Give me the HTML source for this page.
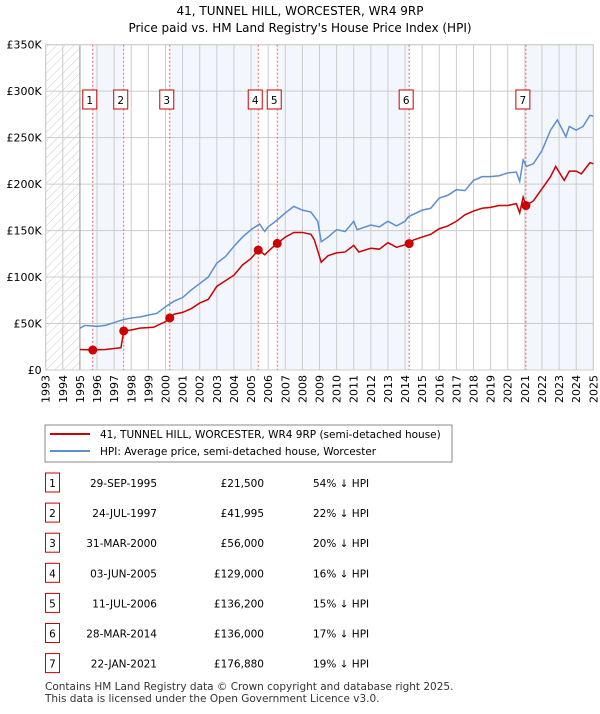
<!DOCTYPE html>
<html><head><meta charset="utf-8"><style>
body{margin:0;background:#fff;font-family:"DejaVu Sans","Liberation Sans",sans-serif;}
svg text{font-family:"DejaVu Sans","Liberation Sans",sans-serif;}
</style></head><body>
<svg id="c" width="600" height="710" viewBox="0 0 600 710" xmlns="http://www.w3.org/2000/svg">
<defs><pattern id="hatch" width="6" height="6" patternUnits="userSpaceOnUse" patternTransform="rotate(45)"><line x1="0" y1="0" x2="0" y2="6" stroke="#ccc" stroke-width="1"/></pattern></defs>
<text x="300" y="15" text-anchor="middle" font-size="12">41, TUNNEL HILL, WORCESTER, WR4 9RP</text>
<text x="300" y="32" text-anchor="middle" font-size="12">Price paid vs. HM Land Registry's House Price Index (HPI)</text>
<g id="plot"></g>
<rect x="45" y="425" width="407" height="37" fill="#fff" stroke="#888"/>
<line x1="50" y1="434" x2="90" y2="434" stroke="#cc0000" stroke-width="2"/>
<text x="100" y="438" font-size="10.5">41, TUNNEL HILL, WORCESTER, WR4 9RP (semi-detached house)</text>
<line x1="50" y1="451" x2="90" y2="451" stroke="#5b8fd0" stroke-width="2"/>
<text x="100" y="455" font-size="10.5">HPI: Average price, semi-detached house, Worcester</text>
<g id="table"></g>
<text x="45" y="690" font-size="10.5" fill="#333">Contains HM Land Registry data © Crown copyright and database right 2025.</text>
<text x="45" y="702" font-size="10.5" fill="#333">This data is licensed under the Open Government Licence v3.0.</text>
</svg>
<script>
const years=[1993,1994,1995,1996,1997,1998,1999,2000,2001,2002,2003,2004,2005,2006,2007,2008,2009,2010,2011,2012,2013,2014,2015,2016,2017,2018,2019,2020,2021,2022,2023,2024,2025];
const yTicks=[0,50000,100000,150000,200000,250000,300000,350000];
const yTickLabels=["£0","£50K","£100K","£150K","£200K","£250K","£300K","£350K"];
const hpiT=[1995,1995.3,1996,1996.5,1997,1997.5,1998,1998.5,1999,1999.5,2000,2000.5,2001,2001.5,2002,2002.5,2003,2003.5,2004,2004.5,2005,2005.5,2005.8,2006,2006.5,2007,2007.5,2008,2008.5,2008.9,2009.1,2009.5,2010,2010.5,2011,2011.2,2012,2012.5,2013,2013.5,2014,2014.2,2015,2015.5,2016,2016.5,2017,2017.5,2018,2018.5,2019,2019.5,2020,2020.5,2020.7,2020.9,2021.1,2021.5,2022,2022.5,2022.9,2023.4,2023.6,2024,2024.4,2024.8,2025];
const hpiV=[45,48,47,48,51,54,56,57,59,61,68,74,78,86,93,100,115,122,133,143,151,157,149,154,161,169,176,172,170,160,138,143,151,149,160,151,156,154,160,155,160,165,172,174,185,188,194,193,204,208,208,209,212,213,203,226,219,222,236,258,269,251,262,258,262,274,273];
const ppT=[1995,1995.75,1996.5,1997.4,1997.56,1998,1998.5,1999.3,2000,2000.25,2000.5,2001,2001.5,2002,2002.5,2003,2003.5,2004,2004.5,2005,2005.42,2005.8,2006.2,2006.53,2007,2007.5,2008,2008.5,2008.7,2009.1,2009.5,2010,2010.5,2011,2011.3,2012,2012.5,2013,2013.5,2014.24,2014.5,2015,2015.5,2016,2016.5,2017,2017.5,2018,2018.5,2019,2019.5,2020,2020.5,2020.7,2020.9,2021.06,2021.5,2022,2022.5,2022.8,2023.3,2023.6,2024,2024.3,2024.8,2025];
const ppV=[22,21.5,22,24,42,43,45,46,52,56,60,62,66,72,76,90,96,102,113,120,129,124,131,136,143,148,148,146,140,116,123,126,127,134,127,131,130,137,132,136,140,143,146,152,155,160,167,171,174,175,177,177,179,169,186,177,182,195,208,219,204,214,214,211,223,222];
const saleT=[1995.75,1997.56,2000.25,2005.42,2006.53,2014.24,2021.06];
const saleV=[21500,41995,56000,129000,136200,136000,176880];
const saleDates=["29-SEP-1995","24-JUL-1997","31-MAR-2000","03-JUN-2005","11-JUL-2006","28-MAR-2014","22-JAN-2021"];
const salePrices=["£21,500","£41,995","£56,000","£129,000","£136,200","£136,000","£176,880"];
const saleHpi=["54% ↓ HPI","22% ↓ HPI","20% ↓ HPI","16% ↓ HPI","15% ↓ HPI","17% ↓ HPI","19% ↓ HPI"];

const X0=45.7,X1=593.3,Y0=370,Y1=44.7;
const xs=t=>X0+(t-1993)/(2025-1993)*(X1-X0);
const ys=v=>Y0-v/350000*(Y0-Y1);
const NS="http://www.w3.org/2000/svg";
const plot=document.getElementById('plot');
function mk(tag,at,parent){const e=document.createElementNS(NS,tag);for(const k in at)e.setAttribute(k,at[k]);(parent||plot).appendChild(e);return e;}
const bounds=[1995].concat(saleT).concat([2025]);
for(let i=0;i<bounds.length-1;i++){
  if(i%2===1){const r=mk('rect',{x:xs(bounds[i]),y:Y1,width:xs(bounds[i+1])-xs(bounds[i]),height:Y0-Y1,fill:'#eef3fc',opacity:'0.7'});
  
  }
}
const h=mk('rect',{x:X0,y:Y1,width:xs(1995)-X0,height:Y0-Y1,fill:'url(#hatch)'});


years.forEach(y=>{const l=mk('line',{x1:xs(y),x2:xs(y),y1:Y1,y2:Y0,stroke:'#ccc','stroke-width':1});


const t=mk('text',{x:0,y:0,transform:`translate(${xs(y)+4},${Y0+5}) rotate(-90)`,'text-anchor':'end','font-size':'11'});
t.textContent=y;

});
yTicks.forEach((v,i)=>{const l=mk('line',{x1:X0,x2:X1,y1:ys(v),y2:ys(v),stroke:'#ccc','stroke-width':1});


const t=mk('text',{x:X0-4,y:ys(v)+4,'text-anchor':'end','font-size':'11'});
t.textContent=yTickLabels[i];

});
mk('line',{x1:xs(1995),x2:xs(1995),y1:Y1,y2:Y0,stroke:'#999'});
mk('rect',{x:X0,y:Y1,width:X1-X0,height:Y0-Y1,fill:'none',stroke:'#ccc'});
saleT.forEach((t,i)=>{const l=mk('line',{x1:xs(t),x2:xs(t),y1:Y1,y2:Y0,stroke:'#e66','stroke-width':1,'stroke-dasharray':'2,2'});


const b=mk('rect',{x:xs(t)-10,y:90,width:14,height:19,fill:'#fff',stroke:'#c00'});


const tx=mk('text',{x:xs(t)-3,y:104,'text-anchor':'middle','font-size':'10.5'});
tx.textContent=i+1;

});
const hp=mk('polyline',{points:hpiT.map((t,i)=>xs(t)+','+ys(hpiV[i]*1000)).join(' '),fill:'none',stroke:'#5b8fd0','stroke-width':1.5});


const pp=mk('polyline',{points:ppT.map((t,i)=>xs(t)+','+ys(ppV[i]*1000)).join(' '),fill:'none',stroke:'#cc0000','stroke-width':1.5});


saleT.forEach((t,i)=>{const c=mk('circle',{cx:xs(t),cy:ys(saleV[i]),r:4.5,fill:'#cc0000'});

});
const tb=document.getElementById('table');
saleT.forEach((t,i)=>{const y=483+i*30.1;
const b=mk('rect',{x:45.5,y:y-10,width:14,height:19,fill:'#fff',stroke:'#c00'},tb);


const n=mk('text',{x:52.5,y:y+4,'text-anchor':'middle','font-size':'10.5'},tb);n.textContent=i+1;


const d=mk('text',{x:157,y:y+4,'text-anchor':'end','font-size':'10.5'},tb);d.textContent=saleDates[i];


const p=mk('text',{x:264,y:y+4,'text-anchor':'end','font-size':'10.5'},tb);p.textContent=salePrices[i];


const q=mk('text',{x:313,y:y+4,'font-size':'10.5'},tb);q.textContent=saleHpi[i];

});
</script>
</body></html>
